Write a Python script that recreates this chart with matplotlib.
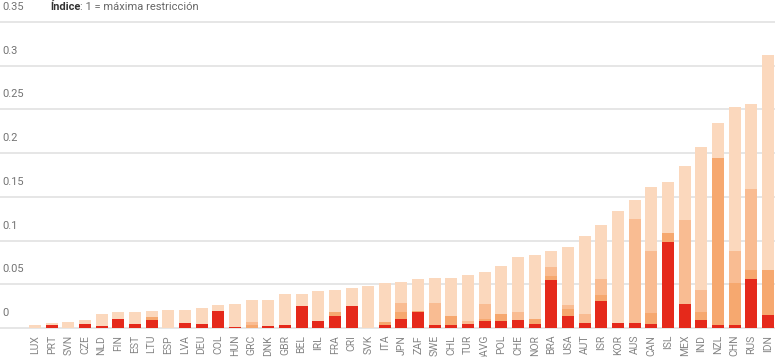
import matplotlib
matplotlib.use("Agg")
import matplotlib.pyplot as plt
import matplotlib.transforms as mtransforms
import numpy as np

plt.rcParams["font.family"] = ["Roboto", "DejaVu Sans"]

countries = ["LUX", "PRT", "SVN", "CZE", "NLD", "FIN", "EST", "LTU", "ESP", "LVA",
             "DEU", "COL", "HUN", "GRC", "DNK", "GBR", "BEL", "IRL", "FRA", "CRI",
             "SVK", "ITA", "JPN", "ZAF", "SWE", "CHL", "TUR", "OAVG", "POL", "CHE",
             "NOR", "BRA", "USA", "AUT", "ISR", "KOR", "AUS", "CAN", "ISL", "MEX",
             "IND", "NZL", "CHN", "RUS", "IDN"]

# segment heights of each stacked bar (bottom to top)
red = [0.0, 0.004, 0.0, 0.0046, 0.0023, 0.0104, 0.0046, 0.0092, 0.0, 0.0058,
       0.0046, 0.0196, 0.0012, 0.0, 0.0025, 0.0035, 0.0253, 0.008, 0.0138, 0.0253,
       0.0, 0.0035, 0.0104, 0.0184, 0.0035, 0.0035, 0.0046, 0.008, 0.008, 0.009,
       0.0042, 0.0547, 0.0134, 0.0054, 0.0306, 0.0054, 0.0054, 0.0042, 0.0982, 0.0271,
       0.0088, 0.003, 0.003, 0.0558, 0.0145]
orange = [0.0, 0.0, 0.0, 0.0, 0.0, 0.0, 0.0, 0.0035, 0.0, 0.0,
          0.0, 0.0, 0.0, 0.0038, 0.0, 0.0, 0.0, 0.0, 0.0046, 0.0,
          0.0, 0.0035, 0.008, 0.0011, 0.0, 0.0103, 0.0, 0.0024, 0.008, 0.0,
          0.0057, 0.0046, 0.008, 0.0, 0.0069, 0.0, 0.0, 0.0126, 0.0104, 0.0,
          0.0092, 0.1916, 0.0482, 0.0103, 0.0516]
light = [0.0, 0.0, 0.0, 0.0, 0.0, 0.0, 0.0, 0.0, 0.0, 0.0,
         0.0, 0.0, 0.0, 0.0035, 0.0, 0.0, 0.0, 0.0, 0.0, 0.0,
         0.0, 0.0, 0.0103, 0.0, 0.0252, 0.0, 0.0034, 0.0172, 0.0, 0.0093,
         0.0, 0.0103, 0.0046, 0.0103, 0.0183, 0.0, 0.1192, 0.0711, 0.0, 0.0964,
         0.0252, 0.0, 0.0367, 0.0929, 0.0]
peach = [0.004, 0.002, 0.007, 0.0044, 0.0142, 0.0081, 0.0139, 0.0069, 0.0208, 0.015,
         0.0185, 0.007, 0.0265, 0.0242, 0.0295, 0.0355, 0.0137, 0.0345, 0.0253, 0.0207,
         0.048, 0.0447, 0.0243, 0.0368, 0.0288, 0.0437, 0.053, 0.0368, 0.055, 0.063,
         0.0734, 0.0183, 0.0665, 0.0893, 0.0619, 0.1284, 0.0218, 0.0734, 0.0584, 0.0619,
         0.164, 0.0401, 0.1651, 0.0975, 0.2466]

yticks = [0, 0.05, 0.1, 0.15, 0.2, 0.25, 0.3, 0.35]
ytick_labels = ["0", "0.05", "0.1", "0.15", "0.2", "0.25", "0.3", "0.35"]

colors = ["#e5291b", "#f6a86f", "#f9bc92", "#fbd8bd"]

fig = plt.figure(figsize=(7.75, 3.57), dpi=100)
ax = fig.add_axes([0, 0.0812, 1, 0.857])

x = np.arange(len(countries))
bottom = np.zeros(len(countries))
for vals, color in zip([red, orange, light, peach], colors):
    ax.bar(x, vals, width=0.72, bottom=bottom, color=color, linewidth=0, zorder=3)
    bottom += np.array(vals)

ax.set_xlim(-2.1, 44.42)
ax.set_ylim(0, 0.35)

for yv in yticks:
    ax.axhline(yv, color="#e2e2e2", linewidth=1.2, zorder=1, clip_on=False)

label_trans = mtransforms.offset_copy(ax.get_yaxis_transform(), fig=fig, x=2, y=10, units="dots")
for yv, lab in zip(yticks, ytick_labels):
    ax.text(0, yv, lab, transform=label_trans, fontsize=8, color="#737373",
            ha="left", va="bottom")

ax.set_yticks([])
ax.set_xticks(x)
ax.set_xticklabels(countries, rotation=90, fontsize=7.5, color="#858585")
ax.tick_params(axis="x", length=0, pad=5)
for spine in ax.spines.values():
    spine.set_visible(False)

title_trans = mtransforms.offset_copy(ax.transAxes, fig=fig, x=0, y=10, units="dots")
t1 = ax.text(50 / 775, 1.0, "Índice", transform=title_trans, fontsize=8,
             fontweight="bold", color="#333333", ha="left", va="bottom")
ax.annotate(": 1 = máxima restricción", xy=(1, 0), xycoords=t1, fontsize=8,
            color="#666666", ha="left", va="bottom")

fig.savefig("out.png", dpi=100)
